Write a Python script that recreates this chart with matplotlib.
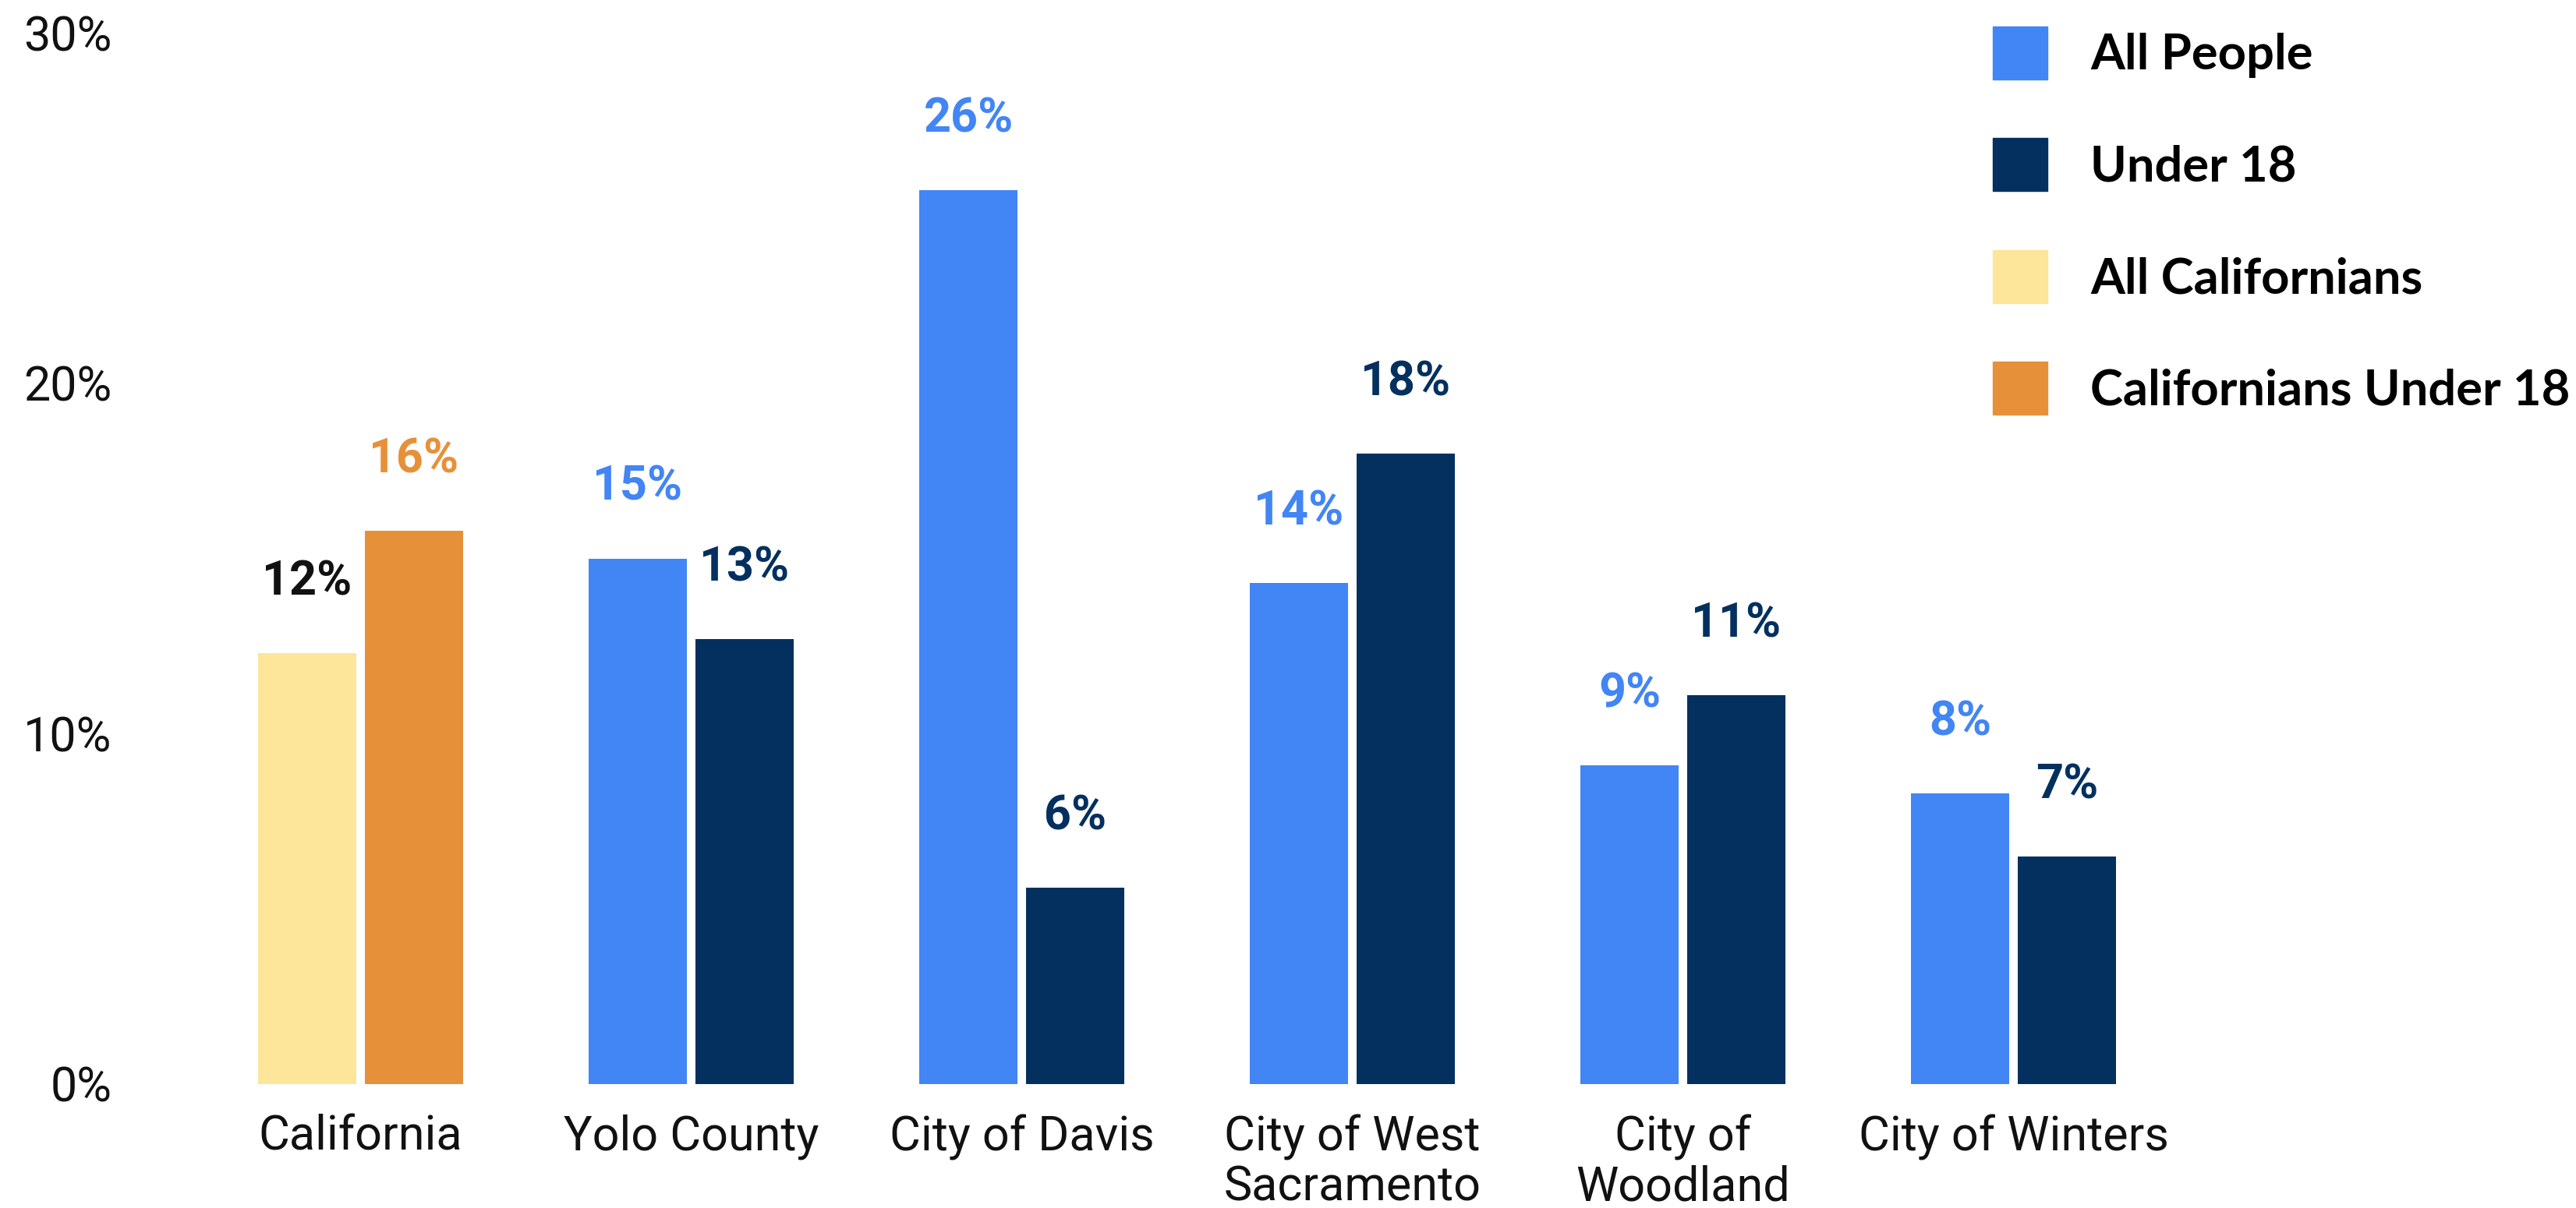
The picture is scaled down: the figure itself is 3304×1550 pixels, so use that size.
import matplotlib
matplotlib.use("Agg")
import matplotlib.pyplot as plt
from matplotlib.patches import Patch
import numpy as np

# ---- data ----
categories = ["California", "Yolo County", "City of Davis", "City of West\nSacramento",
              "City of\nWoodland", "City of Winters"]
ca_all = [12.3]
ca_under18 = [15.8]
ca_all_labels = ["12%"]
ca_under18_labels = ["16%"]
local_all = [15.0, 25.5, 14.3, 9.1, 8.3]
local_under18 = [12.7, 5.6, 18.0, 11.1, 6.5]
local_all_labels = ["15%", "26%", "14%", "9%", "8%"]
local_under18_labels = ["13%", "6%", "18%", "11%", "7%"]
ytick_vals = [0, 10, 20, 30]
ytick_labels = ["0%", "10%", "20%", "30%"]
legend_labels = ["All People", "Under 18", "All Californians", "Californians Under 18"]

# ---- style ----
BLUE = "#4285F4"
NAVY = "#03305F"
YELLOW = "#FDE59A"
ORANGE = "#E6913A"

W, H = 3304, 1550
fig = plt.figure(figsize=(W / 100, H / 100), dpi=100)
ax_left, ax_bottom, ax_top = 250.5, 1391, 42
ax = fig.add_axes([ax_left / W, 1 - ax_bottom / H, 1 - ax_left / W, (ax_bottom - ax_top) / H])

bw = 0.297
off = 0.1615
x_ca = np.array([0])
x_loc = np.arange(1, len(categories))

b1 = ax.bar(x_ca - off, ca_all, bw, color=YELLOW)
b2 = ax.bar(x_ca + off, ca_under18, bw, color=ORANGE)
b3 = ax.bar(x_loc - off, local_all, bw, color=BLUE)
b4 = ax.bar(x_loc + off, local_under18, bw, color=NAVY)

lab_kw = dict(padding=45, fontsize=44, fontweight="bold", family="Roboto")
ax.bar_label(b1, labels=ca_all_labels, color="#111111", **lab_kw)
ax.bar_label(b2, labels=ca_under18_labels, color=ORANGE, **lab_kw)
ax.bar_label(b3, labels=local_all_labels, color=BLUE, **lab_kw)
ax.bar_label(b4, labels=local_under18_labels, color=NAVY, **lab_kw)

ax.set_ylim(0, 30)
ax.set_xlim(-0.5, (W - 462.5) / 424)
ax.set_yticks(ytick_vals)
ax.set_yticklabels(ytick_labels, family="Roboto", fontsize=44, color="#111111")
ax.set_xticks(np.arange(len(categories)))
ax.set_xticklabels(categories, family="Roboto", fontsize=44, color="#111111", linespacing=1.12)
ax.tick_params(axis="both", length=0)
ax.tick_params(axis="y", pad=77)
ax.tick_params(axis="x", pad=28)
for s in ax.spines.values():
    s.set_visible(False)

handles = [Patch(color=c) for c in (BLUE, NAVY, YELLOW, ORANGE)]
leg = fig.legend(handles, legend_labels, loc="upper left",
                 bbox_to_anchor=(2556 / W, 1 - 34 / H), frameon=False,
                 prop=dict(family="Lato", weight="bold", size=45.5),
                 handlelength=1.1, handleheight=1.27, handletextpad=0.88,
                 labelspacing=1.2, borderpad=0, borderaxespad=0)

fig.savefig("out.png", dpi=100, facecolor="white")
